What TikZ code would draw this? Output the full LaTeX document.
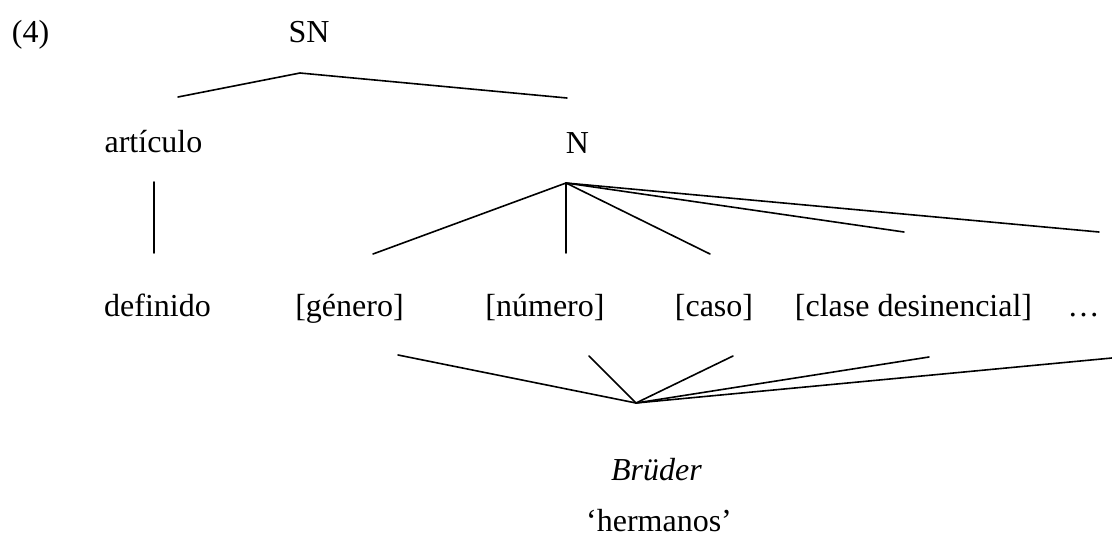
\documentclass[tikz,border=0pt]{standalone}
\usepackage{fontspec}
\setmainfont{Liberation Serif}
\begin{document}
\begin{tikzpicture}[x=1pt,y=-1pt,
  lbl/.style={anchor=base,inner sep=0pt,outer sep=0pt,font=\fontsize{32}{38}\selectfont},
  branch/.style={line width=1.6pt,line cap=round,line join=round}]
\useasboundingbox (0,0) rectangle (1112,536);

% labels
\node[lbl,anchor=base west] (ex)   at (12,42)    {(4)};
\node[lbl] (sn)    at (309,42)   {SN};
\node[lbl] (art)   at (153.5,152){artículo};
\node[lbl] (n)     at (577.5,153){N};
\node[lbl] (def)   at (157.5,316){definido};
\node[lbl] (gen)   at (349.5,316){[género]};
\node[lbl] (num)   at (545,316)  {[número]};
\node[lbl] (cas)   at (714,316)  {[caso]};
\node[lbl] (cla)   at (913.5,316){[clase desinencial]};
\node[lbl] (etc)   at (1083.5,316){…};
\node[lbl,font=\fontsize{32}{38}\selectfont\itshape] (word) at (656.5,480){Brüder};
\node[lbl] (gloss) at (659,531)  {‘hermanos’};

% branch points
\coordinate (snTop)  at (300,73);
\coordinate (snL)    at (178,97);
\coordinate (snR)    at (567,98);
\coordinate (artT)   at (154,182);
\coordinate (artB)   at (154,253);
\coordinate (nTop)   at (566,183);
\coordinate (nGen)   at (373,254);
\coordinate (nNum)   at (566,253);
\coordinate (nCas)   at (710,254);
\coordinate (nCla)   at (904,232);
\coordinate (nEtc)   at (1099,232);
\coordinate (wBot)   at (636,403);
\coordinate (wGen)   at (398,355);
\coordinate (wNum)   at (589,356);
\coordinate (wCas)   at (733,356);
\coordinate (wCla)   at (929,357);
\coordinate (wEtc)   at (1112,358);

% SN -> artículo, N
\draw[branch] (snL) -- (snTop) -- (snR);
% artículo -> definido
\draw[branch] (artT) -- (artB);
% N -> features
\foreach \t in {nGen,nNum,nCas,nCla,nEtc}
  \draw[branch] (nTop) -- (\t);
% features -> Brüder
\foreach \t in {wGen,wNum,wCas,wCla,wEtc}
  \draw[branch] (wBot) -- (\t);
\end{tikzpicture}
\end{document}
